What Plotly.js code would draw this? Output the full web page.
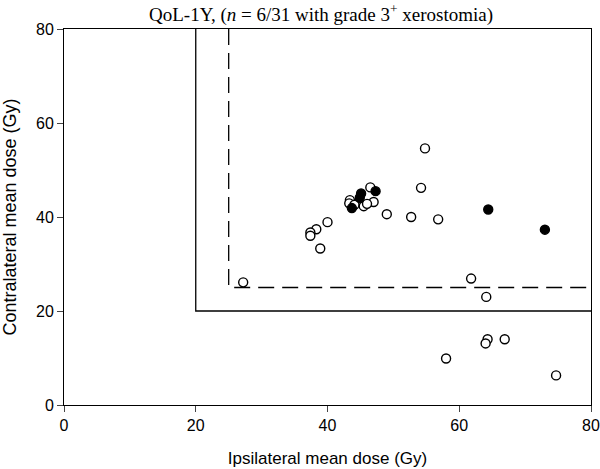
<!DOCTYPE html>
<html>
<head>
<meta charset="utf-8">
<script src="https://cdn.plot.ly/plotly-3.0.1.min.js"></script>
<style>
  html, body { margin: 0; padding: 0; background: #fff; }
  #chart { width: 600px; height: 469px; }
</style>
</head>
<body>
<div id="chart"></div>
<script>
// patients without grade 3+ xerostomia (open circles)
var openX = [27.2, 40.0, 38.3, 37.4, 37.4, 38.9, 54.8, 54.2, 46.5, 43.4, 43.3, 44.1,
             47.0, 45.5, 49.0, 52.7, 56.8, 61.8, 64.1, 64.3, 64.0, 66.9, 58.0, 74.7, 46.0];
var openY = [26.1, 38.9, 37.4, 36.7, 36.0, 33.3, 54.6, 46.2, 46.3, 43.6, 42.9, 42.6,
             43.2, 42.3, 40.6, 40.0, 39.5, 26.9, 23.0, 14.0, 13.1, 14.0, 9.9, 6.3, 42.8];
// patients with grade 3+ xerostomia (filled circles)
var fillX = [47.3, 45.1, 44.9, 43.7, 64.4, 73.0];
var fillY = [45.5, 45.0, 44.1, 41.9, 41.6, 37.3];
// dose thresholds
var solidX = [20, 20, 80];
var solidY = [80, 20, 20];
var dashX = [25, 25, 80];
var dashY = [80, 25, 25];

var traces = [
    { x: solidX, y: solidY, type: 'scatter', mode: 'lines',
      line: { color: '#000', width: 1.3 }, hoverinfo: 'skip' },
    { x: dashX, y: dashY, type: 'scatter', mode: 'lines',
      line: { color: '#000', width: 1.3, dash: '16px,8px' }, hoverinfo: 'skip' },
    { x: openX, y: openY, type: 'scatter', mode: 'markers',
      marker: { size: 9, color: '#fff', line: { color: '#000', width: 1.4 } } },
    { x: fillX, y: fillY, type: 'scatter', mode: 'markers',
      marker: { size: 9, color: '#000', line: { color: '#000', width: 1.4 } } }
];

var tickFont = { family: 'Liberation Sans, Arial, sans-serif', size: 16, color: '#000' };

var layout = {
    width: 600,
    height: 469,
    showlegend: false,
    paper_bgcolor: '#fff',
    plot_bgcolor: '#fff',
    margin: { l: 64, r: 9, t: 29, b: 64 },
    title: {
        text: 'QoL-1Y, (<i>n</i> = 6/31 with grade 3<sup>+</sup> xerostomia)',
        font: { family: 'Liberation Serif, Times New Roman, serif', size: 19, color: '#000' },
        x: 0.535, xref: 'container', xanchor: 'center',
        y: 0.97, yref: 'container', yanchor: 'middle'
    },
    xaxis: {
        range: [0, 80], dtick: 20, ticks: 'outside', ticklen: 6, tickwidth: 1,
        showline: true, linecolor: '#000', linewidth: 1, mirror: true,
        showgrid: false, zeroline: false, tickfont: tickFont, ticklabeloverflow: 'allow',
        title: { text: 'Ipsilateral mean dose (Gy)', standoff: 18,
                 font: { family: 'Liberation Sans, Arial, sans-serif', size: 17, color: '#000' } }
    },
    yaxis: {
        range: [0, 80], dtick: 20, ticks: 'outside', ticklen: 6, tickwidth: 1,
        showline: true, linecolor: '#000', linewidth: 1, mirror: true,
        showgrid: false, zeroline: false, tickfont: tickFont, ticklabeloverflow: 'allow',
        title: { text: 'Contralateral mean dose (Gy)', standoff: 14,
                 font: { family: 'Liberation Sans, Arial, sans-serif', size: 18, color: '#000' } }
    }
};

Plotly.newPlot('chart', traces, layout, { displayModeBar: false, staticPlot: true });
</script>
</body>
</html>
